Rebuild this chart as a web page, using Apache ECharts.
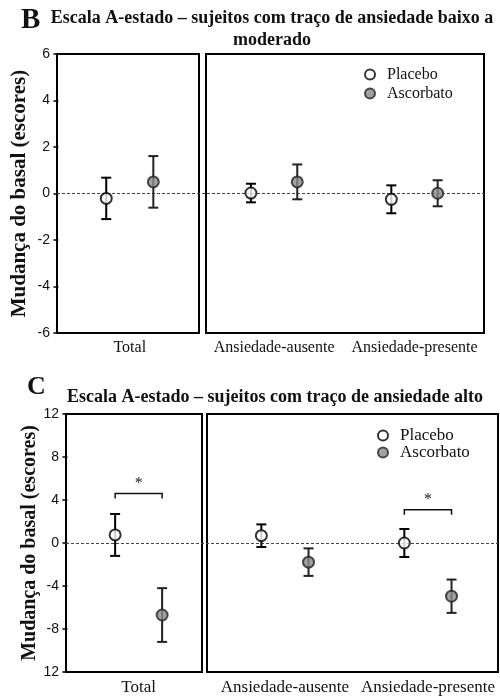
<!DOCTYPE html>
<html>
<head>
<meta charset="utf-8">
<script src="https://cdn.jsdelivr.net/npm/echarts@6/dist/echarts.min.js"></script>
<style>html,body{margin:0;padding:0;background:#fff;}#c{width:500px;height:696px;}</style>
</head>
<body>
<div id="c"></div>
<script>
// ---- data ----
const categories = ['Total', 'Ansiedade-ausente', 'Ansiedade-presente'];
const groups = ['Placebo', 'Ascorbato'];
// Panel B (traço baixo a moderado)
const bPlaceboMean = [-0.21, 0.02, -0.25];
const bPlaceboErr = [0.89, 0.40, 0.60];
const bAscorbatoMean = [0.50, 0.50, 0.01];
const bAscorbatoErr = [1.11, 0.75, 0.56];
// Panel C (traço alto)
const cPlaceboMean = [0.75, 0.68, 0.0];
const cPlaceboErr = [1.95, 1.05, 1.30];
const cAscorbatoMean = [-6.7, -1.78, -4.95];
const cAscorbatoErr = [2.5, 1.28, 1.55];
// significance brackets in panel C: category index, bracket level
const cSigCategory = [0, 2];
const cSigLevel = [4.6, 3.1];
const bTicks = [-6, 6, 2];
const cTicks = [-12, 12, 4];

// ---- layout helpers ----
const catX = [1, 1, 3];      // x position of category inside its box
const catBox = [0, 1, 1];    // 0 = left box, 1 = right box
const off = 0.33;
const serif = 'Liberation Serif';
const sans = 'Liberation Sans';

const grids = [
  {left: 57, top: 54, width: 142, height: 279},
  {left: 206, top: 54, width: 278, height: 279},
  {left: 66, top: 414, width: 136, height: 259},
  {left: 207, top: 414, width: 291, height: 259},
  {left: 57, top: 54, width: 427, height: 279, show: false},
  {left: 66, top: 414, width: 432, height: 259, show: false}
].map(g => Object.assign({show: true, borderColor: '#000', borderWidth: 2, backgroundColor: 'transparent'}, g));

const xRanges = [[-0.02, 1.97], [0.03, 3.99], [-0.02, 1.89], [-0.09, 3.98], [0, 1], [0, 1]];
const xAxes = xRanges.map((r, i) => {
  const box = i % 2;
  const cats = categories.map((c, k) => k).filter(k => catBox[k] === box);
  return {
    type: 'value', gridIndex: i, min: r[0], max: r[1],
    axisLine: {show: false}, axisTick: {show: false}, splitLine: {show: false},
    axisLabel: i >= 4 ? {show: false} : {
      customValues: cats.map(k => catX[k]),
      formatter: v => { const k = cats.find(k => catX[k] === v); return k === undefined ? '' : categories[k]; },
      fontFamily: serif, fontSize: i < 2 ? 16 : 17, color: '#111', margin: 7
    }
  };
});
const yAxes = [0, 1, 2, 3, 4, 5].map(i => {
  const t = (i === 0 || i === 1 || i === 4) ? bTicks : cTicks;
  const showAx = i === 0 || i === 2;
  return {
    type: 'value', gridIndex: i, min: t[0], max: t[1], interval: t[2],
    splitLine: {show: false},
    axisLine: {show: false},
    axisTick: {show: showAx, length: 5, lineStyle: {color: '#000', width: 1.5}},
    axisLabel: {show: showAx, fontFamily: sans, fontSize: 14, color: '#111', margin: 7,
      formatter: v => (i === 2 && v === cTicks[0]) ? '12' : String(v)},
    name: showAx ? 'Mudança do basal (escores)' : '',
    nameLocation: 'middle', nameGap: i === 0 ? 27 : 24,
    nameTextStyle: {fontFamily: serif, fontWeight: 'bold', fontSize: i === 0 ? 21 : 20, color: '#111'}
  };
});

const styles = {
  Placebo: {color: '#fff', borderColor: '#000', borderWidth: 2},
  Ascorbato: {color: '#8a8a8a', borderColor: '#222', borderWidth: 2}
};
const barColor = {Placebo: '#000', Ascorbato: '#222'};

function errRender(color) {
  return function (params, api) {
    const x = api.value(0), lo = api.value(1), hi = api.value(2);
    const a = api.coord([x, hi]), b = api.coord([x, lo]);
    const w = 5, st = {stroke: color, lineWidth: 2};
    return {type: 'group', children: [
      {type: 'line', shape: {x1: a[0], y1: a[1], x2: b[0], y2: b[1]}, style: st},
      {type: 'line', shape: {x1: a[0] - w, y1: a[1], x2: a[0] + w, y2: a[1]}, style: st},
      {type: 'line', shape: {x1: b[0] - w, y1: b[1], x2: b[0] + w, y2: b[1]}, style: st}
    ]};
  };
}

const series = [];
const panels = [
  {base: 0, means: {Placebo: bPlaceboMean, Ascorbato: bAscorbatoMean}, errs: {Placebo: bPlaceboErr, Ascorbato: bAscorbatoErr}, full: 4},
  {base: 2, means: {Placebo: cPlaceboMean, Ascorbato: cAscorbatoMean}, errs: {Placebo: cPlaceboErr, Ascorbato: cAscorbatoErr}, full: 5}
];
panels.forEach(p => {
  series.push({type: 'line', xAxisIndex: p.full, yAxisIndex: p.full, data: [[0, 0], [1, 0]], symbol: 'none', silent: true,
    lineStyle: {color: '#444', width: 1, type: [3, 2]}, z: 1});
  [0, 1].forEach(box => {
    const g = p.base + box;
    groups.forEach((name, gi) => {
      const dx = gi === 0 ? -off : off;
      const idx = categories.map((c, k) => k).filter(k => catBox[k] === box);
      series.push({type: 'custom', xAxisIndex: g, yAxisIndex: g, z: 2, silent: true,
        renderItem: errRender(barColor[name]),
        data: idx.map(k => [catX[k] + dx, p.means[name][k] - p.errs[name][k], p.means[name][k] + p.errs[name][k]])});
      series.push({type: 'scatter', name: name, xAxisIndex: g, yAxisIndex: g, z: 3, symbol: 'circle', symbolSize: 11,
        itemStyle: styles[name], data: idx.map(k => [catX[k] + dx, p.means[name][k]])});
    });
  });
});
// significance brackets
cSigCategory.forEach((k, j) => {
  const g = 2 + catBox[k];
  series.push({type: 'custom', xAxisIndex: g, yAxisIndex: g, z: 4, silent: true,
    renderItem: function (params, api) {
      const a = api.coord([api.value(0), api.value(2)]), b = api.coord([api.value(1), api.value(2)]);
      const st = {stroke: '#111', lineWidth: 1.5, fill: null};
      return {type: 'group', children: [
        {type: 'polyline', shape: {points: [[a[0], a[1] + 5], a, b, [b[0], b[1] + 5]]}, style: st},
        {type: 'text', x: (a[0] + b[0]) / 2, y: a[1] - 10, style: {text: '*', fontFamily: serif, fontSize: 16, fill: '#222', align: 'center', verticalAlign: 'middle'}}
      ]};
    },
    data: [[catX[k] - off, catX[k] + off, cSigLevel[j]]]});
});

const option = {
  animation: false,
  backgroundColor: '#fff',
  grid: grids, xAxis: xAxes, yAxis: yAxes, series: series,
  legend: [
    {data: groups, orient: 'vertical', left: 359, top: 61, itemWidth: 24, itemHeight: 10, itemGap: 2,
      textStyle: {fontFamily: serif, fontSize: 16, lineHeight: 17, color: '#111'}},
    {data: groups, orient: 'vertical', left: 372, top: 422, itemWidth: 24, itemHeight: 10, itemGap: 0,
      textStyle: {fontFamily: serif, fontSize: 17, lineHeight: 17, color: '#111'}}
  ],
  graphic: [
    {type: 'text', left: 21, top: 6, style: {text: 'B', fontFamily: serif, fontWeight: 'bold', fontSize: 29, fill: '#111'}},
    {type: 'text', x: 272, y: 18, style: {text: 'Escala A-estado – sujeitos com traço de ansiedade baixo a', fontFamily: serif, fontWeight: 'bold', fontSize: 18, fill: '#111', align: 'center', verticalAlign: 'middle'}},
    {type: 'text', x: 272, y: 40, style: {text: 'moderado', fontFamily: serif, fontWeight: 'bold', fontSize: 18, fill: '#111', align: 'center', verticalAlign: 'middle'}},
    {type: 'text', left: 27, top: 374, style: {text: 'C', fontFamily: serif, fontWeight: 'bold', fontSize: 26, fill: '#111'}},
    {type: 'text', x: 67, y: 397, style: {text: 'Escala A-estado – sujeitos com traço de ansiedade alto', fontFamily: serif, fontWeight: 'bold', fontSize: 18, fill: '#111', align: 'left', verticalAlign: 'middle'}}
  ]
};
const chart = echarts.init(document.getElementById('c'), null, {renderer: 'canvas'});
chart.setOption(option);
</script>
</body>
</html>
